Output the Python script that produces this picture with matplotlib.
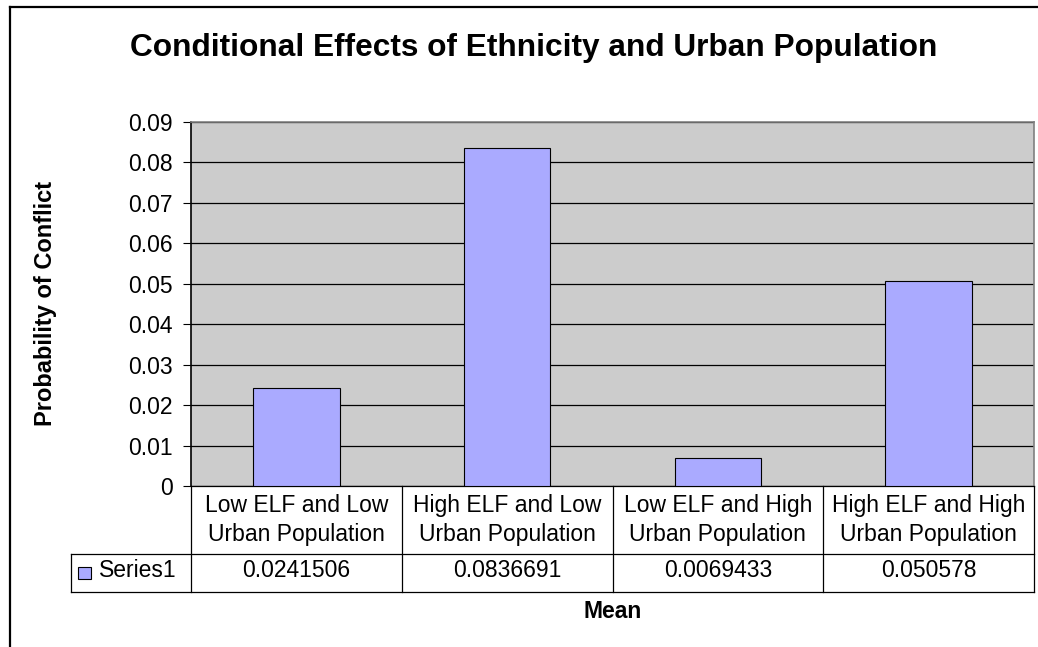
import matplotlib.pyplot as plt
from matplotlib.lines import Line2D
from matplotlib.patches import Rectangle
from matplotlib.transforms import blended_transform_factory
import numpy as np

plt.rcParams["font.family"] = ["Liberation Sans", "DejaVu Sans"]

categories = ["Low ELF and Low\nUrban Population",
              "High ELF and Low\nUrban Population",
              "Low ELF and High\nUrban Population",
              "High ELF and High\nUrban Population"]
means = [0.0241506, 0.0836691, 0.0069433, 0.050578]
series_name = "Series1"
yticks = [0, 0.01, 0.02, 0.03, 0.04, 0.05, 0.06, 0.07, 0.08, 0.09]

BAR = "#aaaaff"
PLOT_BG = "#cccccc"
FS = 16.5

fig = plt.figure(figsize=(10.38, 6.47), dpi=100)
ax = fig.add_axes([191 / 1038, 1 - 486 / 647, 843 / 1038, 364 / 647])
ax.set_facecolor(PLOT_BG)

x = np.arange(len(categories))
ax.bar(x, means, width=0.41, color=BAR, edgecolor="black", linewidth=0.8, zorder=3)

ax.set_xlim(-0.5, len(categories) - 0.5)
ax.set_ylim(0, 0.09)
ax.set_yticks(yticks)
ax.set_yticklabels([f"{t:g}" for t in yticks], fontsize=FS)
ax.set_xticks([])
ax.tick_params(axis="y", direction="out", length=5.8, width=0.8, pad=7.5)
ax.yaxis.grid(True, color="black", linewidth=0.9, zorder=1)
ax.set_axisbelow(True)
for side in ("top", "right"):
    ax.spines[side].set_color("#808080")
    ax.spines[side].set_linewidth(1.2)
ax.spines["left"].set_linewidth(1.2)
ax.spines["bottom"].set_linewidth(0.9)

# data table under the plot (x in data units, y in axes units)
tr = blended_transform_factory(ax.transData, ax.transAxes)
row1, row2 = -0.1868, -0.2912
left_cell = -1.069
lw = 0.9
edges = np.arange(len(categories) + 1) - 0.5
for e in edges:
    ax.add_line(Line2D([e, e], [0, row2], transform=tr, color="black", lw=lw, clip_on=False))
ax.add_line(Line2D([left_cell, left_cell], [row1, row2], transform=tr, color="black", lw=lw, clip_on=False))
ax.add_line(Line2D([left_cell, edges[-1]], [row1, row1], transform=tr, color="black", lw=lw, clip_on=False))
ax.add_line(Line2D([left_cell, edges[-1]], [row2, row2], transform=tr, color="black", lw=lw, clip_on=False))

for i, (cat, v) in enumerate(zip(categories, means)):
    ax.text(i, row1 / 2, cat, transform=tr, ha="center", va="center",
            fontsize=FS, linespacing=1.3, clip_on=False)
    ax.text(i, (row1 + row2) / 2 + 0.006, f"{v}", transform=tr, ha="center", va="center",
            fontsize=FS, clip_on=False)

# legend key in the table's first cell
ax.add_patch(Rectangle((-1.036, -0.2555), 0.062, 0.033, transform=tr, facecolor=BAR,
                       edgecolor="black", linewidth=0.8, clip_on=False))
ax.text(-0.935, (row1 + row2) / 2 + 0.006, series_name, transform=tr, ha="left", va="center",
        fontsize=FS, clip_on=False)

fig.text(534 / 1038, 1 - 48 / 647, "Conditional Effects of Ethnicity and Urban Population",
         ha="center", va="center", fontsize=22.8, fontweight="bold")
fig.text(46 / 1038, 1 - 303 / 647, "Probability of Conflict", rotation=90,
         ha="center", va="center", fontsize=17, fontweight="bold")
fig.text(613 / 1038, 1 - 612 / 647, "Mean", ha="center", va="center",
         fontsize=FS, fontweight="bold")

# chart-area border (top and left edges visible)
fig.add_artist(Line2D([10 / 1038, 1], [1 - 7 / 647, 1 - 7 / 647], color="black", lw=1.6))
fig.add_artist(Line2D([10 / 1038, 10 / 1038], [0, 1 - 7 / 647], color="black", lw=1.6))

fig.savefig("out.png", dpi=100)
